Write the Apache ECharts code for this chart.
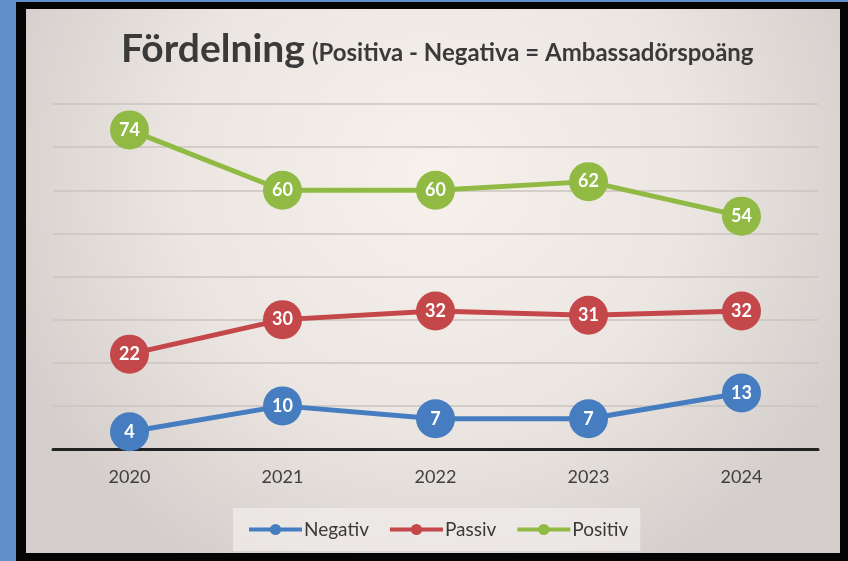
<!DOCTYPE html>
<html><head><meta charset="utf-8">
<script src="https://cdn.jsdelivr.net/npm/echarts@6/dist/echarts.min.js"></script>
<style>
html,body{margin:0;padding:0;width:848px;height:561px;overflow:hidden;background:#6190c8;}
#frame{position:absolute;left:16px;top:2px;width:832px;height:559px;background:#050505;}
#chart{position:absolute;left:10px;top:7px;width:814px;height:544px;}
</style></head>
<body>
<div id="frame"><div id="chart"></div></div>
<script>
const categories = ['2020','2021','2022','2023','2024'];
const negativ = [4,10,7,7,13];
const passiv = [22,30,32,31,32];
const positiv = [74,60,60,62,54];
const seriesNames = ['Negativ','Passiv','Positiv'];
const colors = ['#467dc0','#c4474a','#90ba44'];

const chart = echarts.init(document.getElementById('chart'));
function mk(name, data, color){
  return {
    name, type:'line', data, symbol:'circle', symbolSize:39,
    lineStyle:{width:5,color}, itemStyle:{color},
    label:{show:true,position:'inside',color:'#ffffff',fontSize:18,fontWeight:'bold',fontFamily:'Lato'},
    emphasis:{disabled:true}, z:3
  };
}
chart.setOption({
  animation:false,
  backgroundColor:{type:'radial',x:0.5,y:0.3,r:0.85,colorStops:[{offset:0,color:'#f7f1ec'},{offset:0.55,color:'#ece6e2'},{offset:1,color:'#d3cecb'}]},
  title:{
    left:90, top:16,
    text:'{a|Fördelning} {b|(Positiva - Negativa = Ambassadörspoäng}',
    textStyle:{rich:{
      a:{fontFamily:'Lato',fontWeight:'bold',fontSize:39,color:'#3a3a3a',verticalAlign:'bottom'},
      b:{fontFamily:'Lato',fontWeight:'bold',fontSize:24,color:'#3a3a3a',verticalAlign:'bottom',padding:[0,0,4,2]}
    }}
  },
  legend:{
    data:seriesNames, left:207, top:499,
    backgroundColor:'rgba(240,236,233,0.75)', padding:[12,12,12,14],
    itemWidth:53, itemHeight:14, itemGap:19,
    lineStyle:{width:4},
    textStyle:{fontFamily:'Lato',fontSize:19,color:'#3a3a3a',padding:[0,0,0,-3]}
  },
  grid:{left:27,right:22,top:95,bottom:104},
  xAxis:{
    type:'category', data:categories, boundaryGap:true,
    axisLine:{lineStyle:{color:'#222222',width:3}},
    axisTick:{show:false},
    axisLabel:{fontFamily:'Lato',fontSize:18,color:'#404040',margin:19}
  },
  yAxis:{
    type:'value', min:0, max:80, interval:10,
    axisLabel:{show:false}, axisLine:{show:false}, axisTick:{show:false},
    splitLine:{lineStyle:{color:'#cac4c0',width:1.5}}
  },
  series:[mk('Negativ',negativ,colors[0]),mk('Passiv',passiv,colors[1]),mk('Positiv',positiv,colors[2])]
});
</script>
</body></html>
